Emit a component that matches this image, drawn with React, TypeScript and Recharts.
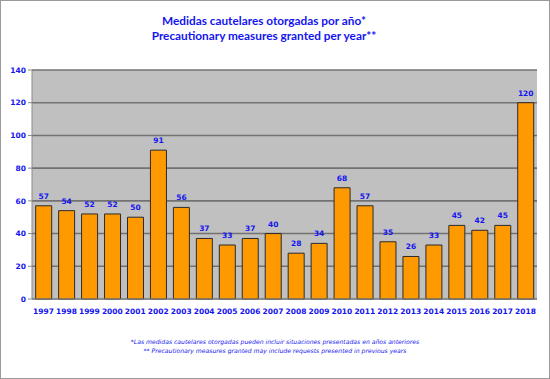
import { Bar, BarChart, CartesianGrid, LabelList, XAxis, YAxis } from "recharts";

// Medidas cautelares otorgadas por año (1997–2018)
const years = [
  "1997", "1998", "1999", "2000", "2001", "2002", "2003", "2004", "2005", "2006", "2007",
  "2008", "2009", "2010", "2011", "2012", "2013", "2014", "2015", "2016", "2017", "2018",
];
const granted = [57, 54, 52, 52, 50, 91, 56, 37, 33, 37, 40, 28, 34, 68, 57, 35, 26, 33, 45, 42, 45, 120];
const yTicks = [0, 20, 40, 60, 80, 100, 120, 140];

const titleLines = ["Medidas cautelares otorgadas por año*", "Precautionary measures granted per year**"];
const noteLines = [
  "*Las medidas cautelares otorgadas pueden incluir situaciones presentadas en años anteriores",
  "** Precautionary measures granted may include requests presented in previous years",
];

const BLUE = "#1414F0";
const FONT = "'DejaVu Sans', Verdana, sans-serif";

const data = years.map((y, i) => ({ year: y, value: granted[i] }));

export default function App() {
  return (
    <div
      style={{
        position: "fixed",
        left: 0,
        top: 0,
        width: 550,
        height: 379,
        background: "#fff",
        boxSizing: "border-box",
        border: "1px solid #9a9a9a",
        fontFamily: FONT,
      }}
    >
      <div
        style={{
          position: "absolute",
          top: 12,
          left: 0,
          width: 526,
          textAlign: "center",
          color: BLUE,
          fontWeight: "bold",
          fontFamily: "Lato, 'Open Sans', sans-serif",
          fontSize: 11.8,
          lineHeight: "15px",
        }}
      >
        {titleLines.map((t) => (
          <div key={t}>{t}</div>
        ))}
      </div>
      <div style={{ position: "absolute", left: -1, top: -1 }}>
        <BarChart
          width={550}
          height={379}
          data={data}
          margin={{ top: 70, right: 13, left: 0, bottom: 60 }}
          barCategoryGap="16%"
        >
          <CartesianGrid fill="#C0C0C0" vertical={false} stroke="#727272" strokeWidth={1.6} />
          <XAxis
            dataKey="year"
            height={20}
            interval={0}
            stroke="#8a8a8a"
            tickLine={false}
            tick={{ fill: BLUE, fontSize: 7.5, fontWeight: "bold", fontFamily: FONT }}
            tickMargin={4}
          />
          <YAxis
            domain={[0, 140]}
            ticks={yTicks}
            width={32}
            stroke="#8a8a8a"
            tickSize={4}
            tick={{ fill: BLUE, fontSize: 7.5, fontWeight: "bold", fontFamily: FONT }}
          />
          <YAxis yAxisId="r" orientation="right" width={0} stroke="#a0a0a0" tick={false} tickLine={false} />
          <Bar dataKey="value" fill="#FF9900" stroke="#2b2b2b" strokeWidth={1} isAnimationActive={false}>
            <LabelList
              dataKey="value"
              position="top"
              offset={7}
              fill={BLUE}
              fontSize={7.5}
              fontWeight="bold"
              fontFamily={FONT}
            />
          </Bar>
        </BarChart>
      </div>
      <div
        style={{
          position: "absolute",
          top: 337,
          left: 0,
          width: 548,
          textAlign: "center",
          color: BLUE,
          fontStyle: "italic",
          fontSize: 6.1,
          lineHeight: "8.5px",
        }}
      >
        {noteLines.map((t) => (
          <div key={t}>{t}</div>
        ))}
      </div>
    </div>
  );
}
